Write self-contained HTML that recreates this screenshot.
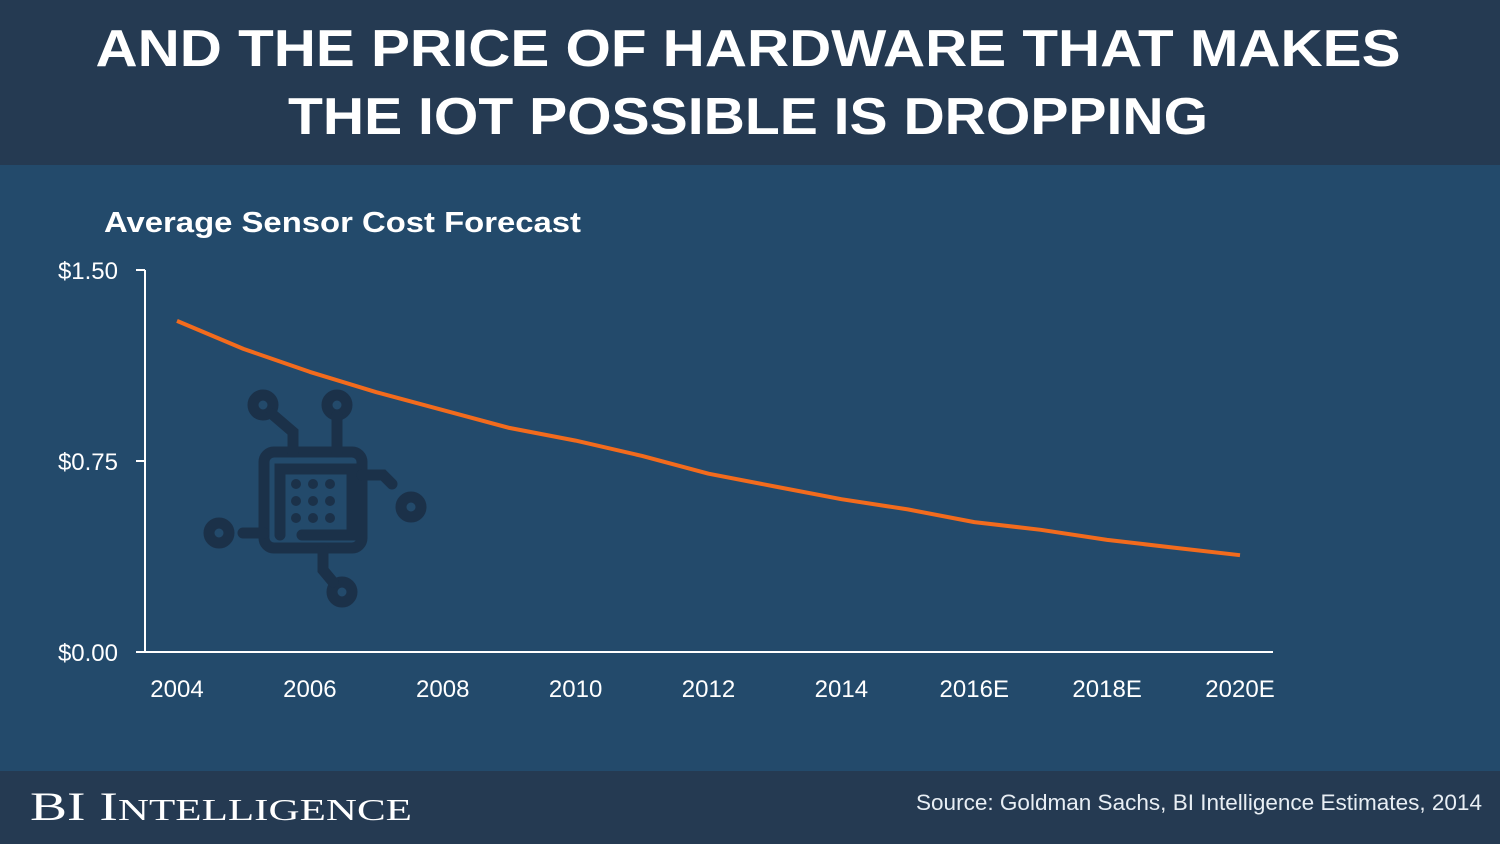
<!DOCTYPE html>
<html><head><meta charset="utf-8"><style>
html,body{margin:0;padding:0;width:1500px;height:844px;overflow:hidden;background:#234a6b}
svg{display:block}
text{font-family:"Liberation Sans",sans-serif}
</style></head><body>
<svg width="1500" height="844" viewBox="0 0 1500 844">
<rect x="0" y="0" width="1500" height="165" fill="#253a52"/>
<rect x="0" y="165" width="1500" height="606" fill="#234a6b"/>
<rect x="0" y="771" width="1500" height="73" fill="#253a52"/>
<text x="748" y="66" text-anchor="middle" fill="#fff" font-weight="bold" font-size="52" textLength="1305" lengthAdjust="spacingAndGlyphs">AND THE PRICE OF HARDWARE THAT MAKES</text>
<text x="748" y="134" text-anchor="middle" fill="#fff" font-weight="bold" font-size="52" textLength="920" lengthAdjust="spacingAndGlyphs">THE IOT POSSIBLE IS DROPPING</text>
<text x="104" y="232" fill="#fff" font-weight="bold" font-size="29" textLength="477" lengthAdjust="spacingAndGlyphs">Average Sensor Cost Forecast</text>
<g fill="none" stroke="#1b3149" stroke-width="11" stroke-linecap="round">
<rect x="264" y="452" width="98" height="96" rx="10"/>
<path d="M280 535 V469 H352 V535 H302"/>
<circle cx="263" cy="405" r="10"/><path d="M272 414 L293 432 V452"/>
<circle cx="337" cy="405" r="10"/><path d="M337 415 V452"/>
<circle cx="411" cy="507" r="10"/><path d="M362 475 H383 L392 484"/>
<circle cx="219" cy="533" r="10"/><path d="M243 533 H264"/>
<circle cx="342" cy="592" r="10"/><path d="M323 548 V570 L333 582"/>
</g>
<g fill="#1b3149">
<circle cx="296" cy="484" r="5"/><circle cx="313" cy="484" r="5"/><circle cx="330" cy="484" r="5"/>
<circle cx="296" cy="501" r="5"/><circle cx="313" cy="501" r="5"/><circle cx="330" cy="501" r="5"/>
<circle cx="296" cy="518" r="5"/><circle cx="313" cy="518" r="5"/><circle cx="330" cy="518" r="5"/>
</g>
<g id="axes"></g>
<path id="line" fill="none" stroke="#f26b1d" stroke-width="4" stroke-linejoin="round"/>
<text x="30" y="820" fill="#fff" style="font-family:'Liberation Serif',serif" font-size="40" textLength="382" lengthAdjust="spacingAndGlyphs">BI I<tspan font-size="31">NTELLIGENCE</tspan></text>
<text x="1482" y="810" text-anchor="end" fill="#e8eef4" font-size="22" textLength="566" lengthAdjust="spacingAndGlyphs">Source: Goldman Sachs, BI Intelligence Estimates, 2014</text>
</svg>
<script>
const years=[2004,2005,2006,2007,2008,2009,2010,2011,2012,2013,2014,2015,2016,2017,2018,2019,2020];
const costs=[1.30,1.19,1.10,1.02,0.95,0.88,0.83,0.77,0.70,0.65,0.60,0.56,0.51,0.48,0.44,0.41,0.38];
const xLabels=["2004","2006","2008","2010","2012","2014","2016E","2018E","2020E"];
const yTicks=[0,0.75,1.5];
const yTickLabels=["$0.00","$0.75","$1.50"];
const NS="http://www.w3.org/2000/svg";
const x=v=>177+(v-2004)*(1240-177)/16;
const y=v=>652-v*(652-270)/1.5;
const g=document.getElementById('axes');
function mk(t,a){const e=document.createElementNS(NS,t);for(const k in a)e.setAttribute(k,a[k]);g.appendChild(e);return e;}
let e=mk('path',{d:`M145 270 V652 H1273`,stroke:'#fff','stroke-width':2,fill:'none'});


yTicks.forEach((v,i)=>{
 let t=mk('line',{x1:136,x2:145,y1:y(v),y2:y(v),stroke:'#fff','stroke-width':2});
 
 
 let l=mk('text',{x:118,y:y(v)+9,'text-anchor':'end',fill:'#fff','font-size':24});
 l.textContent=yTickLabels[i];
 
 
});
xLabels.forEach((s,i)=>{
 let l=mk('text',{x:x(2004+i*2),y:697,'text-anchor':'middle',fill:'#fff','font-size':24});
 l.textContent=s;
 
 
});
document.getElementById('line').setAttribute('d',years.map((yr,i)=>(i?'L':'M')+x(yr).toFixed(1)+' '+y(costs[i]).toFixed(1)).join(' '));
</script>
</body></html>
